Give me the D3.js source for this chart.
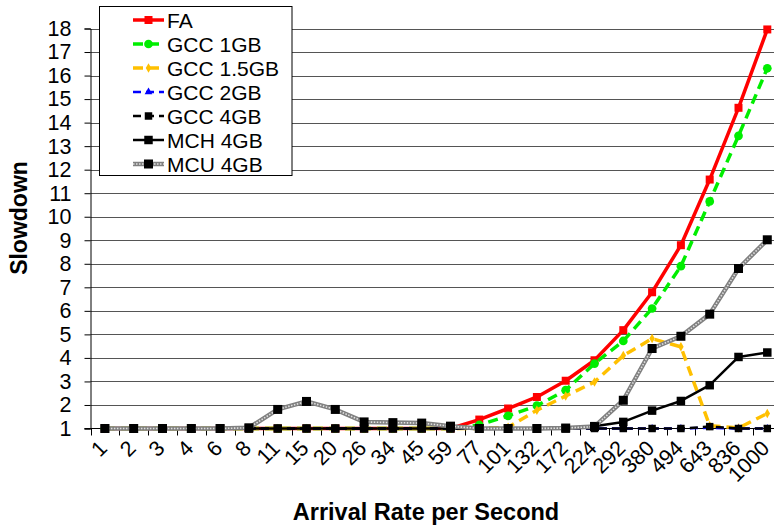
<!DOCTYPE html>
<html>
<head>
<meta charset="utf-8">
<script src="https://cdn.jsdelivr.net/npm/d3@7"></script>
<style>
  body { margin: 0; background: #fff; }
  svg { display: block; font-family: Arial, "Liberation Sans", sans-serif; }
</style>
</head>
<body>
<svg id="chart" width="774" height="527"></svg>
<script>
// Arrival rates (requests per second) on the category axis
const categories = ["1","2","3","4","6","8","11","15","20","26","34","45","59","77","101","132","172","224","292","380","494","643","836","1000"];

// Slowdown per configuration
const faValues      = [1,1,1,1,1,1,1,1,1,1,1,1,1,1.38,1.85,2.34,3.03,3.9,5.18,6.79,8.79,11.58,14.63,17.96];
const gcc1Values    = [1,1,1,1,1,1,1,1,1,1,1,1,1,1.15,1.54,1.97,2.63,3.76,4.72,6.1,7.9,10.65,13.44,16.31];
const gcc15Values   = [1,1,1,1,1,1,1,1,1,1,1,1,1,1,1.05,1.78,2.38,2.98,4.1,4.82,4.47,1.12,1.02,1.64];
const gcc2Values    = [1,1,1,1,1,1,1,1,1,1,1,1,1,1,1,1,1,1,1,1,1,1.03,1,1];
const gcc4Values    = [1,1,1,1,1,1,1,1,1,1,1,1,1,1,1,1,1,1,1,1,1,1.08,1,1];
const mchValues     = [1,1,1,1,1,1,1,1,1,1,1,1,1,1,1,1,1,1.1,1.28,1.76,2.17,2.84,4.04,4.23];
const mcuValues     = [1,1,1,1,1,1.03,1.81,2.15,1.81,1.28,1.25,1.23,1.1,1,1,1,1.02,1.08,2.2,4.4,4.92,5.86,7.8,9.02];

const seriesNames = ["FA","GCC 1GB","GCC 1.5GB","GCC 2GB","GCC 4GB","MCH 4GB","MCU 4GB"];
const yTicks = [1,2,3,4,5,6,7,8,9,10,11,12,13,14,15,16,17,18];

const series = [
  {name: seriesNames[0], values: faValues,    color: "#ff0000", width: 3.5, dash: null,    symbol: d3.symbolSquare,   size: 64},
  {name: seriesNames[1], values: gcc1Values,  color: "#00ee00", width: 3.5, dash: "10,6",  symbol: d3.symbolCircle,   size: 60},
  {name: seriesNames[2], values: gcc15Values, color: "#ffc000", width: 3.5, dash: "10,6",  symbol: d3.symbolDiamond,  size: 26},
  {name: seriesNames[3], values: gcc2Values,  color: "#0000ff", width: 2.5, dash: "8,5",   symbol: d3.symbolTriangle, size: 26},
  {name: seriesNames[4], values: gcc4Values,  color: "#000000", width: 2.5, dash: "8,5",   symbol: d3.symbolSquare,   size: 56},
  {name: seriesNames[5], values: mchValues,   color: "#000000", width: 2.5, dash: null,    symbol: d3.symbolSquare,   size: 72},
  {name: seriesNames[6], values: mcuValues,   color: "#000000", width: 4.5, dash: null,    symbol: d3.symbolSquare,   size: 81, checkered: true}
];

const svg = d3.select("#chart");
const plotLeft = 90.5, plotBottom = 428.5, plotTop = 28.5;
const bandW = 28.8;

const x = d3.scaleBand().domain(categories).range([plotLeft, plotLeft + bandW * categories.length]);
const cx = c => x(c) + x.bandwidth() / 2;
const y = d3.scaleLinear().domain([1, 18]).range([plotBottom, plotTop]);

// Horizontal gridlines
svg.append("g").selectAll("line")
  .data(yTicks.filter(t => t > 1))
  .join("line")
  .attr("x1", plotLeft).attr("x2", 774)
  .attr("y1", d => Math.round(y(d)) + 0.5).attr("y2", d => Math.round(y(d)) + 0.5)
  .attr("stroke", "#555").attr("stroke-width", 1);

// Y axis
const yAxis = d3.axisLeft(y).tickValues(yTicks).tickSize(6).tickPadding(13).tickFormat(d3.format("d"));
const gy = svg.append("g").attr("transform", `translate(${plotLeft},0)`).call(yAxis);
gy.select(".domain").attr("stroke", "#000");
gy.selectAll(".tick line").attr("stroke", "#000");
gy.selectAll("text").attr("font-size", 21.5).attr("fill", "#000").attr("font-family", "Arial, 'Liberation Sans', sans-serif");

// X axis line and category boundary ticks
svg.append("line").attr("x1", plotLeft - 6).attr("x2", 774).attr("y1", plotBottom).attr("y2", plotBottom).attr("stroke", "#000");
svg.append("g").selectAll("line")
  .data(categories)
  .join("line")
  .attr("x1", d => Math.round(x(d)) + 0.5).attr("x2", d => Math.round(x(d)) + 0.5)
  .attr("y1", plotBottom).attr("y2", plotBottom + 7)
  .attr("stroke", "#000");

// Rotated category labels
svg.append("g").selectAll("text")
  .data(categories)
  .join("text")
  .attr("transform", d => `translate(${cx(d) + 3.5},${plotBottom + 21}) rotate(-45)`)
  .attr("text-anchor", "end")
  .attr("font-size", 21.5)
  .attr("fill", "#000")
  .text(d => d);

// Axis titles
svg.append("text")
  .attr("x", 426).attr("y", 520)
  .attr("text-anchor", "middle")
  .attr("font-size", 23.5).attr("font-weight", "bold")
  .text("Arrival Rate per Second");
svg.append("text")
  .attr("transform", "translate(27,218) rotate(-90)")
  .attr("text-anchor", "middle")
  .attr("font-size", 23).attr("font-weight", "bold")
  .text("Slowdown");

// Series lines and markers
const line = d3.line().x((d, i) => cx(categories[i])).y(d => y(d));
const plot = svg.append("g");

function drawStroke(g, s, pathD) {
  if (s.checkered) {
    g.append("path").attr("d", pathD).attr("fill", "none")
      .attr("stroke", "#808080").attr("stroke-width", s.width).attr("stroke-linejoin", "round");
    g.append("path").attr("d", pathD).attr("fill", "none")
      .attr("stroke", "#e0e0e0").attr("stroke-width", 1.6).attr("stroke-dasharray", "1.5,1.5");
  } else {
    g.append("path").attr("d", pathD).attr("fill", "none")
      .attr("stroke", s.color).attr("stroke-width", s.width)
      .attr("stroke-dasharray", s.dash).attr("stroke-linejoin", "round");
  }
}

series.forEach(s => {
  const g = plot.append("g");
  drawStroke(g, s, line(s.values));
  g.selectAll("path.mk")
    .data(s.values)
    .join("path")
    .attr("class", "mk")
    .attr("d", d3.symbol().type(s.symbol).size(s.size))
    .attr("transform", (d, i) => `translate(${cx(categories[i])},${y(d)})`)
    .attr("fill", s.color);
});

// Legend
const lg = svg.append("g");
lg.append("rect").attr("x", 99.5).attr("y", 6.5).attr("width", 192.5).attr("height", 169)
  .attr("fill", "#fff").attr("stroke", "#000");
series.forEach((s, i) => {
  const ly = 20 + i * 24;
  const g = lg.append("g");
  drawStroke(g, s, `M133,${ly}H164`);
  g.append("path")
    .attr("d", d3.symbol().type(s.symbol).size(s.size))
    .attr("transform", `translate(148.5,${ly})`)
    .attr("fill", s.color);
  lg.append("text").attr("x", 167).attr("y", ly + 7.5)
    .attr("font-size", 21).attr("fill", "#000").text(s.name);
});
</script>
</body>
</html>
